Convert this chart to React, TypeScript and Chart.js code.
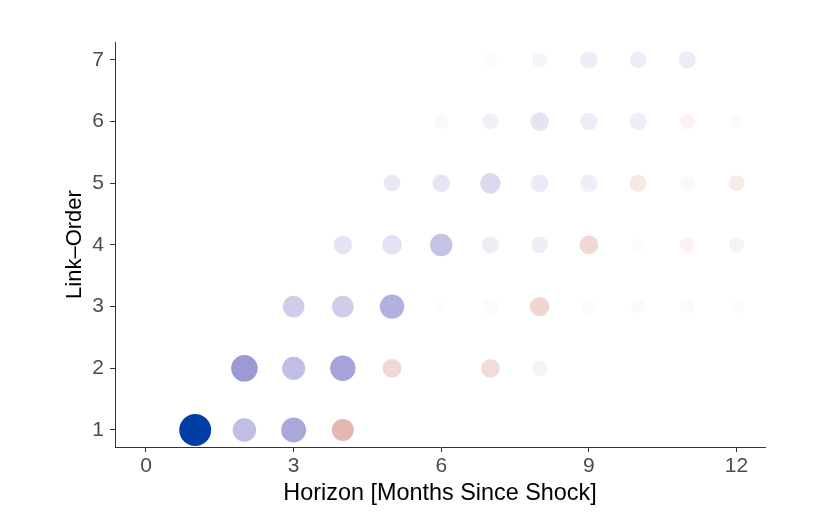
import React, { useEffect, useRef } from "react";
import Chart from "chart.js/auto";

// Horizon (months since shock), link order, coefficient (colour), |t| (size)
const horizon1 = [1, 2, 3, 4];
const coef1 = [1.0, 0.31, 0.41, -0.31];
const absT1 = [10.0, 4.9, 5.7, 4.2];

const horizon2 = [2, 3, 4, 5, 7, 8];
const coef2 = [0.49, 0.31, 0.44, -0.165, -0.15, 0.057];
const absT2 = [6.6, 4.7, 5.9, 2.8, 2.7, 1.5];

const horizon3 = [3, 4, 5, 6, 7, 8, 9, 10, 11, 12];
const coef3 = [0.235, 0.235, 0.38, 0.0, 0.015, -0.18, 0.015, -0.02, 0.015, 0.005];
const absT3 = [4.0, 4.0, 5.4, 0.2, 1.4, 3.0, 1.2, 1.0, 1.2, 0.9];

const horizon4 = [4, 5, 6, 7, 8, 9, 10, 11, 12];
const coef4 = [0.13, 0.14, 0.28, 0.09, 0.08, -0.17, 0.005, -0.05, 0.057];
const absT4 = [2.7, 3.1, 4.4, 2.1, 1.9, 2.7, 0.5, 1.4, 1.5];

const horizon5 = [5, 6, 7, 8, 9, 10, 11, 12];
const coef5 = [0.11, 0.12, 0.18, 0.1, 0.08, -0.1, -0.03, -0.09];
const absT5 = [1.9, 2.2, 3.5, 2.2, 2.2, 2.1, 1.2, 1.7];

const horizon6 = [6, 7, 8, 9, 10, 11, 12];
const coef6 = [0.03, 0.07, 0.13, 0.09, 0.085, -0.05, 0.008];
const absT6 = [1.2, 1.7, 2.7, 2.2, 2.1, 1.4, 1.0];

const horizon7 = [7, 8, 9, 10, 11];
const coef7 = [0.015, 0.05, 0.09, 0.085, 0.09];
const absT7 = [1.0, 1.4, 2.2, 1.9, 2.1];

const rows = [
  { order: 1, h: horizon1, c: coef1, t: absT1 },
  { order: 2, h: horizon2, c: coef2, t: absT2 },
  { order: 3, h: horizon3, c: coef3, t: absT3 },
  { order: 4, h: horizon4, c: coef4, t: absT4 },
  { order: 5, h: horizon5, c: coef5, t: absT5 },
  { order: 6, h: horizon6, c: coef6, t: absT6 },
  { order: 7, h: horizon7, c: coef7, t: absT7 },
];

const xTicks = [0, 3, 6, 9, 12];
const yTicks = [1, 2, 3, 4, 5, 6, 7];

const HIGH = "#003DA5";
const LOW = "#891C19";

function srgbToLin(c: number) {
  c /= 255;
  return c <= 0.04045 ? c / 12.92 : Math.pow((c + 0.055) / 1.055, 2.4);
}
function linToSrgb(c: number) {
  const v = c <= 0.0031308 ? 12.92 * c : 1.055 * Math.pow(c, 1 / 2.4) - 0.055;
  return Math.max(0, Math.min(255, Math.round(v * 255)));
}
function hexToLab(hex: string) {
  const r = srgbToLin(parseInt(hex.slice(1, 3), 16));
  const g = srgbToLin(parseInt(hex.slice(3, 5), 16));
  const b = srgbToLin(parseInt(hex.slice(5, 7), 16));
  const X = (0.4124 * r + 0.3576 * g + 0.1805 * b) / 0.95047;
  const Y = 0.2126 * r + 0.7152 * g + 0.0722 * b;
  const Z = (0.0193 * r + 0.1192 * g + 0.9505 * b) / 1.08883;
  const f = (t: number) => (t > 0.008856 ? Math.cbrt(t) : 7.787 * t + 16 / 116);
  const fx = f(X), fy = f(Y), fz = f(Z);
  return [116 * fy - 16, 500 * (fx - fy), 200 * (fy - fz)];
}
function labToRgb(L: number, a: number, b: number) {
  const fy = (L + 16) / 116;
  const fx = fy + a / 500;
  const fz = fy - b / 200;
  const inv = (t: number) => (t * t * t > 0.008856 ? t * t * t : (t - 16 / 116) / 7.787);
  const X = inv(fx) * 0.95047, Y = inv(fy), Z = inv(fz) * 1.08883;
  const r = 3.2406 * X - 1.5372 * Y - 0.4986 * Z;
  const g = -0.9689 * X + 1.8758 * Y + 0.0415 * Z;
  const bb = 0.0557 * X - 0.204 * Y + 1.057 * Z;
  return `rgb(${linToSrgb(r)},${linToSrgb(g)},${linToSrgb(bb)})`;
}
const labHigh = hexToLab(HIGH);
const labLow = hexToLab(LOW);
function colourFor(v: number) {
  const end = v >= 0 ? labHigh : labLow;
  const t = Math.min(1, Math.abs(v));
  const base = 100 - 0.9 * Math.max(0, 0.03 - t) / 0.03;
  return labToRgb(base + (end[0] - base) * t, end[1] * t, end[2] * t);
}
function radiusFor(t: number) {
  return Math.sqrt(25 + 23 * t);
}

export default function App() {
  const ref = useRef<HTMLCanvasElement>(null);
  useEffect(() => {
    if (!ref.current) return;
    const points: { x: number; y: number }[] = [];
    const colours: string[] = [];
    const radii: number[] = [];
    rows.forEach((row) => {
      row.h.forEach((h, i) => {
        points.push({ x: h, y: row.order });
        colours.push(colourFor(row.c[i]));
        radii.push(radiusFor(row.t[i]));
      });
    });
    const font = "'Liberation Sans', Arial, Helvetica, sans-serif";
    const chart = new Chart(ref.current, {
      type: "scatter",
      data: {
        datasets: [
          {
            data: points,
            pointBackgroundColor: colours,
            pointBorderWidth: 0,
            pointBorderColor: "rgba(0,0,0,0)",
            pointRadius: radii,
            pointHoverRadius: radii,
          },
        ],
      },
      options: {
        animation: false,
        responsive: false,
        maintainAspectRatio: false,
        layout: { padding: { top: 42, right: 65, left: 0, bottom: 0 } },
        plugins: { legend: { display: false }, tooltip: { enabled: false } },
        scales: {
          x: {
            type: "linear",
            min: -0.63,
            max: 12.58,
            afterBuildTicks: (s: any) => {
              s.ticks = xTicks.map((v) => ({ value: v }));
            },
            afterFit: (s: any) => {
              s.height = 71;
            },
            grid: { drawOnChartArea: false, drawTicks: true, tickLength: 5, color: "#333333", lineWidth: 1 },
            border: { display: true, color: "#333333", width: 1 },
            ticks: {
              padding: 2,
              color: "#4D4D4D",
              font: { family: font, size: 21 },
              maxRotation: 0,
              autoSkip: false,
            },
            title: {
              display: true,
              text: "Horizon [Months Since Shock]",
              color: "#000000",
              font: { family: font, size: 23.4 },
              padding: { top: 0, bottom: 10 },
            },
          },
          y: {
            type: "linear",
            min: 0.724,
            max: 7.29,
            afterBuildTicks: (s: any) => {
              s.ticks = yTicks.map((v) => ({ value: v }));
            },
            afterFit: (s: any) => {
              s.width = 115;
            },
            grid: { drawOnChartArea: false, drawTicks: true, tickLength: 5, color: "#333333", lineWidth: 1 },
            border: { display: true, color: "#333333", width: 1 },
            ticks: {
              padding: 6,
              color: "#4D4D4D",
              font: { family: font, size: 21 },
              autoSkip: false,
            },
            title: {
              display: true,
              text: "Link–Order",
              color: "#000000",
              font: { family: font, size: 22 },
              padding: { top: 62, bottom: 0 },
            },
          },
        },
      },
    });
    return () => chart.destroy();
  }, []);
  return (
    <div style={{ position: "fixed", left: 0, top: 0, width: 830, height: 518, background: "#ffffff" }}>
      <canvas ref={ref} width={830} height={518} style={{ width: 830, height: 518 }} />
    </div>
  );
}
